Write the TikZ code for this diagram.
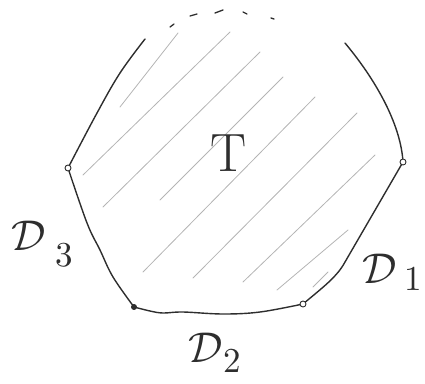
\documentclass[tikz,border=0pt]{standalone}
\usepackage{graphicx}
\definecolor{ink}{HTML}{2E2E2E}
\definecolor{hatchgray}{HTML}{B4B4B4}
\newcommand\Dlab[3]{\scalebox{4.3}{$\mathcal{D}$}\hspace{#2}\raisebox{#3}{\scalebox{3.5}{#1}}}
\begin{document}
\begin{tikzpicture}[x=1pt,y=-1pt,
  outline/.style={draw=ink, line width=1.4pt, line cap=round, line join=round},
  hatch/.style={draw=hatchgray, line width=0.8pt, line cap=round},
  dashmark/.style={draw=ink, line width=1.3pt, line cap=round},
  vtx/.style={circle, draw=ink, line width=0.9pt, fill=white, inner sep=0pt, minimum size=6pt},
  vtxdot/.style={circle, draw=ink, line width=0.9pt, fill=ink, inner sep=0pt, minimum size=5pt},
  lbl/.style={text=ink, inner sep=0pt}]
\useasboundingbox (0,0) rectangle (425,383);
% vertices
\coordinate (P1) at (403,162);
\coordinate (P2) at (303,304);
\coordinate (P3) at (68,168);
\coordinate (P4) at (134,307);
\coordinate (TL) at (145,39);
\coordinate (TR) at (345,43);
\coordinate (K) at (345,262);
% hatching
\draw[hatch] (178,33) -- (120,107);
\draw[hatch] (230,32) -- (83,175);
\draw[hatch] (260,52) -- (103,207);
\draw[hatch] (283,77) -- (160,200);
\draw[hatch] (315,97) -- (143,272);
\draw[hatch] (357,113) -- (193,278);
\draw[hatch] (375,155) -- (243,282);
\draw[hatch] (348,230) -- (277,290);
\draw[hatch] (328,272) -- (313,287);
% outline
\draw[outline] plot[smooth, tension=0.6] coordinates {(TL) (120,73) (97,113) (P3)};
\draw[outline] plot[smooth, tension=0.6] coordinates {(P3) (87,223) (100,250) (113,277) (P4)};
\draw[outline] plot[smooth, tension=0.6] coordinates {(P4) (150,311) (163,313) (183,312) (223,314) (260,312) (P2)};
\draw[outline] (P2) .. controls (322,288) and (337,277) .. (K) -- (P1);
\draw[outline] (P1) .. controls (401,128) and (380,85) .. (TR);
% dotted top
\draw[dashmark] (170,27) -- (174,24);
\draw[dashmark] (190,16) -- (197,14);
\draw[dashmark] (215,13) -- (223,10);
\draw[dashmark] (243,12) -- (247,14);
\draw[dashmark] (271,18) -- (274,19);
% vertex marks
\node[vtx] (v1) at (P1) {};
\node[vtx] (v2) at (P2) {};
\node[vtx] (v3) at (P3) {};
\node[vtxdot] (v4) at (P4) {};
% labels
\node[lbl] (T) at (229,153) {\fontsize{54}{54}\selectfont T};
\node[lbl] (d3) at (42,244) {\Dlab{3}{10pt}{-16pt}};
\node[lbl] (d1) at (392,272) {\Dlab{1}{8pt}{-7pt}};
\node[lbl] (d2) at (215,353) {\Dlab{2}{1pt}{-10pt}};
\end{tikzpicture}
\end{document}
